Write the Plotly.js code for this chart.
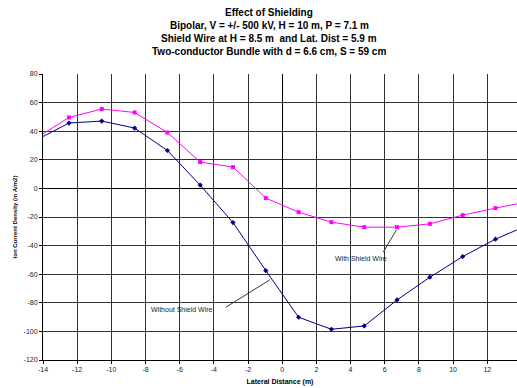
<!DOCTYPE html>
<html><head><meta charset="utf-8">
<script src="https://cdn.plot.ly/plotly-3.0.1.min.js"></script>
<style>html,body{margin:0;padding:0;background:#fff}#chart{width:517px;height:388px}</style>
</head><body><div id="chart"></div>
<script>
const lateralDistance = [-14.4, -12.48, -10.56, -8.64, -6.72, -4.8, -2.88, -0.96, 0.96, 2.88, 4.8, 6.72, 8.64, 10.56, 12.48, 14.4];
const withoutShield = [33.8, 45.7, 47.1, 42.2, 26.5, 2.3, -23.9, -57.5, -90.1, -98.5, -96.2, -78.0, -62.1, -47.7, -35.5, -25.6];
const withShield = [35.2, 49.6, 55.5, 53.1, 39.1, 18.4, 14.9, -6.8, -16.6, -23.6, -27.1, -27.1, -24.8, -18.7, -13.8, -9.2];
const titleLines = ["Effect of Shielding", "Bipolar, V = +/- 500 kV, H = 10 m, P = 7.1 m", "Shield Wire at H = 8.5 m  and Lat. Dist = 5.9 m", "Two-conductor Bundle with d = 6.6 cm, S = 59 cm"];
const xTicks = [-14, -12, -10, -8, -6, -4, -2, 0, 2, 4, 6, 8, 10, 12];
const yTicks = [-120, -100, -80, -60, -40, -20, 0, 20, 40, 60, 80];

const font = 'Arial, "Liberation Sans", sans-serif';
const plotTop = 74, plotBottom = 360;
const titleY = [12.7, 25.7, 38.7, 51.3];
const traces = [
  {x: lateralDistance, y: withShield, mode: 'lines+markers', name: 'With Shield Wire',
   line: {color: '#FF00FF', width: 1}, marker: {symbol: 'square', size: 4, color: '#FF00FF'}},
  {x: lateralDistance, y: withoutShield, mode: 'lines+markers', name: 'Without Shield Wire',
   line: {color: '#000080', width: 1}, marker: {symbol: 'diamond', size: 4, color: '#000080'}}
];
const titleAnn = titleLines.map((t, i) => ({
  text: '<b>' + t + '</b>', xref: 'paper', yref: 'paper', x: 0.477, xanchor: 'center',
  y: (plotBottom - titleY[i]) / (plotBottom - plotTop), yanchor: 'middle',
  showarrow: false, font: {family: font, size: 10, color: '#000'}
}));
const layout = {
  width: 517, height: 388,
  margin: {l: 43, r: 0, t: 74, b: 28},
  paper_bgcolor: '#fff', plot_bgcolor: '#fff',
  showlegend: false,
  xaxis: {range: [-14, 13.74], tickvals: xTicks, ticktext: xTicks.map(String),
          showgrid: true, gridcolor: '#333', gridwidth: 1, zeroline: true, zerolinecolor: '#000', zerolinewidth: 1,
          showline: true, linecolor: '#000', linewidth: 1, ticks: 'outside', ticklen: 3, tickcolor: '#000',
          tickfont: {family: font, size: 7, color: '#222'},
          title: {text: '<b>Lateral Distance (m)</b>', font: {family: font, size: 7, color: '#000'}, standoff: 6}},
  yaxis: {range: [-120, 80], tickvals: yTicks, ticktext: yTicks.map(String),
          showgrid: true, gridcolor: '#333', gridwidth: 1, zeroline: true, zerolinecolor: '#000', zerolinewidth: 1,
          showline: true, linecolor: '#000', linewidth: 1, ticks: 'outside', ticklen: 3, tickcolor: '#000',
          tickfont: {family: font, size: 7, color: '#222'},
          title: {text: '<b>Ion Current Density (in A/m2)</b>', font: {family: font, size: 6, color: '#000'}, standoff: 5}},
  annotations: titleAnn.concat([
    {text: 'Without Shield Wire', x: -5.88, y: -85, xref: 'x', yref: 'y', showarrow: false,
     font: {family: font, size: 7, color: '#222'}},
    {text: 'With Shield Wire', x: 4.6, y: -48.8, xref: 'x', yref: 'y', showarrow: false,
     font: {family: font, size: 7, color: '#222'}}
  ]),
  shapes: [
    {type: 'line', xref: 'x', yref: 'y', x0: -3.30, y0: -83.1, x1: -0.73, y1: -64, line: {color: '#333', width: 1}},
    {type: 'line', xref: 'x', yref: 'y', x0: 5.91, y0: -44.6, x1: 6.69, y1: -29, line: {color: '#333', width: 1}}
  ]
};
Plotly.newPlot('chart', traces, layout, {displayModeBar: false, staticPlot: true});
</script></body></html>
